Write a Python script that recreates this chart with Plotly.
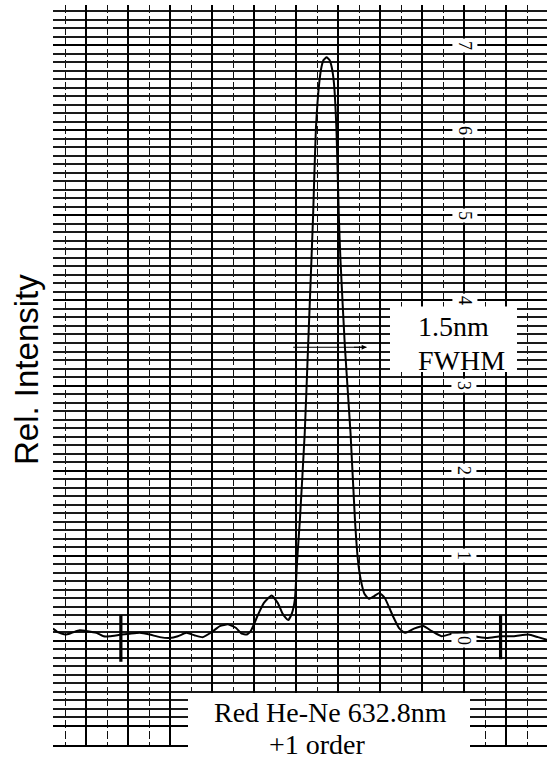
import plotly.graph_objects as go

# ---- data (chart-paper divisions on x, relative intensity on y) ----
scan_x = [-0.58, -0.36, 0.01, 0.31, 0.69, 1.07, 1.49, 1.83, 2.12, 2.68, 3.07, 3.55, 4.02, 4.50,
          4.98, 5.36, 5.77, 6.17, 6.56, 6.98, 7.36, 7.75, 8.12, 8.40, 8.63, 8.83, 9.17, 9.45,
          9.82, 10.12, 10.36, 10.61, 10.79, 10.93, 11.04, 11.17, 11.40, 11.56, 11.72, 11.80,
          11.93, 12.09, 12.20, 12.30, 12.44, 12.58, 12.68, 12.79, 12.91, 13.02, 13.10, 13.31,
          13.58, 13.79, 13.93, 14.07, 14.24, 14.45, 14.69, 14.95, 15.21, 15.61, 15.88, 16.17,
          16.60, 17.04, 17.45, 17.91, 18.40, 18.94, 19.50, 20.06, 20.72, 21.36, 22.04, 22.50,
          22.93]
scan_y = [0.14, 0.10, 0.07, 0.09, 0.12, 0.11, 0.09, 0.05, 0.05, 0.07, 0.08, 0.09, 0.07, 0.04,
          0.03, 0.05, 0.09, 0.06, 0.04, 0.10, 0.17, 0.19, 0.15, 0.08, 0.07, 0.11, 0.30, 0.44,
          0.53, 0.44, 0.31, 0.24, 0.32, 0.48, 0.95, 1.42, 2.44, 3.46, 4.48, 5.01,
          6.01, 6.56, 6.75, 6.83, 6.86, 6.83, 6.75, 6.56, 6.01, 5.01, 4.48, 3.46,
          2.44, 1.42, 0.95, 0.71, 0.55, 0.49, 0.52, 0.56, 0.50, 0.28, 0.15, 0.09,
          0.14, 0.17, 0.11, 0.05, 0.08, 0.09, 0.05, 0.03, 0.05, 0.05, 0.07, 0.04,
          0.01]

marker_x = [2.65, 20.72]
marker_top = [0.30, 0.30]
marker_bottom = [-0.25, -0.22]

scale_labels = ["0", "1", "2", "3", "4", "5", "6", "7"]
scale_values = [0, 1, 2, 3, 4, 5, 6, 7]

fwhm_left, fwhm_right, fwhm_level = 10.85, 14.34, 3.45

fwhm_text = ["1.5nm", "FWHM"]
caption_text = ["Red He-Ne 632.8nm", "+1 order"]
axis_title = "Rel. Intensity"

# grid positions of the chart paper
y_major = list(range(-1, 8))
y_minor = [round(i / 10, 1) for i in range(-10, 75) if i % 10 != 0]
x_major = list(range(1, 24, 2))
x_minor = list(range(0, 24, 2))

fig = go.Figure()

fig.add_trace(go.Scatter(
    x=scan_x, y=scan_y, mode="lines",
    line=dict(color="black", width=2, shape="spline", smoothing=0.45),
    hoverinfo="skip", showlegend=False))

mx, my = [], []
for xv, t, b in zip(marker_x, marker_top, marker_bottom):
    mx += [xv, xv, None]
    my += [t, b, None]
fig.add_trace(go.Scatter(x=mx, y=my, mode="lines",
                         line=dict(color="black", width=3.2),
                         hoverinfo="skip", showlegend=False))

# FWHM marker line
fig.add_trace(go.Scatter(x=[fwhm_left, fwhm_right], y=[fwhm_level, fwhm_level], mode="lines",
                         line=dict(color="black", width=1.2),
                         hoverinfo="skip", showlegend=False))

W, H = 547, 764
L, R, T, B = 53, 0, 5, 19
PW, PH = W - L - R, H - T - B


def px(xp):
    return (xp - L) / PW


def py(yp):
    return (H - B - yp) / PH


shapes = [
    dict(type="rect", xref="paper", yref="paper", x0=px(390), x1=px(517),
         y0=py(372), y1=py(306.5), fillcolor="white", line=dict(width=0), layer="above"),
    dict(type="rect", xref="paper", yref="paper", x0=px(188), x1=px(470),
         y0=py(768), y1=py(693), fillcolor="white", line=dict(width=0), layer="above"),
]

annotations = []
serif = dict(family="Liberation Serif, Times New Roman, serif", size=28, color="black")
annotations.append(dict(xref="paper", yref="paper", x=px(416), y=py(326), text=fwhm_text[0],
                        showarrow=False, xanchor="left", yanchor="middle", font=serif))
annotations.append(dict(xref="paper", yref="paper", x=px(416), y=py(360), text=fwhm_text[1],
                        showarrow=False, xanchor="left", yanchor="middle", font=serif))
annotations.append(dict(xref="paper", yref="paper", x=px(330.5), y=py(712), text=caption_text[0],
                        showarrow=False, xanchor="center", yanchor="middle", font=serif))
annotations.append(dict(xref="paper", yref="paper", x=px(317.5), y=py(762), text=caption_text[1],
                        showarrow=False, xanchor="center", yanchor="bottom", font=serif))
annotations.append(dict(xref="paper", yref="paper", x=px(27), y=py(370), text=axis_title,
                        showarrow=False, textangle=-90, xanchor="center", yanchor="middle",
                        font=dict(family="Liberation Sans, Arial, sans-serif", size=33, color="black")))
# FWHM arrow head
annotations.append(dict(x=fwhm_right, y=fwhm_level, ax=-14, ay=0, xref="x", yref="y",
                        text="", showarrow=True, arrowhead=2,
                        arrowsize=0.8, arrowwidth=1.2, arrowcolor="black"))
# chart-paper scale numbers
for lab, v in zip(scale_labels, scale_values):
    annotations.append(dict(x=19, y=v, xref="x", yref="y", text=lab, showarrow=False,
                            textangle=90, bgcolor="white", borderpad=2,
                            font=dict(family="Liberation Serif, Times New Roman, serif", size=18,
                                      color="black")))

fig.update_layout(
    width=W, height=H,
    margin=dict(l=L, r=R, t=T, b=B, autoexpand=False),
    paper_bgcolor="white", plot_bgcolor="white",
    shapes=shapes, annotations=annotations, showlegend=False,
    xaxis=dict(range=[-0.58, 22.93], tickmode="array", tickvals=x_major,
               showticklabels=False, ticks="", zeroline=False,
               showgrid=True, gridcolor="black", gridwidth=2.4,
               showline=True, linecolor="black", linewidth=2, mirror=False,
               minor=dict(tickmode="array", tickvals=x_minor, showgrid=True,
                          gridcolor="#111111", gridwidth=1.3, griddash="8px,3px", ticks="")),
    yaxis=dict(range=[-1.229, 7.476], tickmode="array", tickvals=y_major,
               showticklabels=False, ticks="", zeroline=False,
               showgrid=True, gridcolor="black", gridwidth=2.2, showline=False,
               minor=dict(tickmode="array", tickvals=y_minor, showgrid=True,
                          gridcolor="#1a1a1a", gridwidth=1.6, ticks="")),
)

fig.write_html("out.html", config={"displayModeBar": False},
               post_script="document.body.style.margin='0';document.body.style.padding='0';")
